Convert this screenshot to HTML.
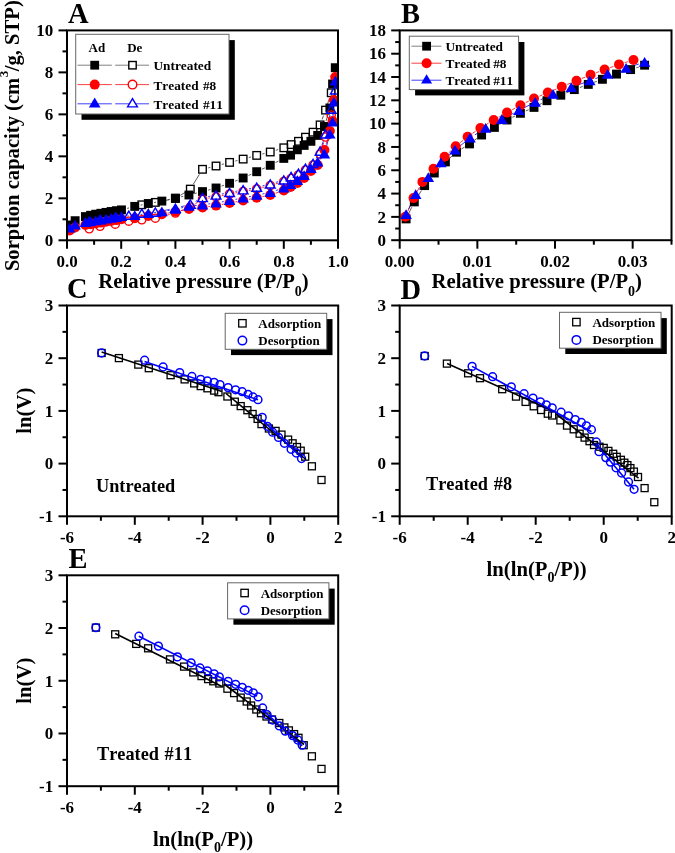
<!DOCTYPE html>
<html><head><meta charset="utf-8"><style>
html,body{margin:0;padding:0;background:#fff;}
svg{display:block;filter:blur(0.35px);}
text{font-family:"Liberation Serif", serif;font-weight:bold;fill:#000;font-kerning:none;}
</style></head><body>
<svg width="675" height="853" viewBox="0 0 675 853">
<defs>
<clipPath id="cA"><rect x="67" y="30.4" width="271" height="209.9"/></clipPath>
<clipPath id="cB"><rect x="399.7" y="30.4" width="271.8" height="209.8"/></clipPath>
<clipPath id="cC"><rect x="67" y="305.5" width="271.2" height="210.8"/></clipPath>
<clipPath id="cD"><rect x="399.7" y="305.5" width="272" height="210.8"/></clipPath>
<clipPath id="cE"><rect x="67" y="575.3" width="271.2" height="210.9"/></clipPath>
</defs>
<g clip-path="url(#cA)">
<path d="M127.18,208.4L129.04,207.9M140.52,205.17L142.53,204.73M154.11,202.47L156.04,202.13M167.61,199.82L169.64,199.38M181.15,196.78L183.2,196.32M194.67,193.56L196.78,193.04M208.2,190.09L210.35,189.51M221.62,186.07L224.03,185.23M235.09,181.15L237.66,180.15M248.5,175.51L251.35,174.19M262.03,169.18L264.92,167.82M275.51,162.62L278.54,161.08M326.11,120.84L328.21,113.66M330.53,102.14L331.92,89.86M333.55,78.18L334.32,73.52" fill="none" stroke="#333" stroke-width="0.8"/>
<path d="M333.5,85.62L333.01,87.18M329.38,98.4L327.38,104.5M323.51,115.64L322.14,119.36M278.16,149.55L275.89,150.25M264.53,153.44L262.42,153.96M251.01,156.95L248.84,157.55M237.42,160.5L235.33,161M223.9,163.91L221.75,164.49M210.32,167.4L208.23,167.9M199.41,174.32L193.4,184.08M185.31,192.25L180.39,195.35M169.61,199.63L161.14,201.27M149.54,203.43L147.61,203.77" fill="none" stroke="#333" stroke-width="0.8"/>
<path d="M127.35,218.81L128.87,218.69M140.57,217.25L142.48,216.95M154.15,215.22L156,214.98M167.66,213.17L169.59,212.83M181.18,210.61L183.17,210.19M194.81,208.35L196.64,208.15M208.34,206.68L210.21,206.42M221.84,204.49L223.81,204.11M235.4,201.93L237.35,201.57M248.94,199.35L250.91,198.95M262.48,196.61L264.47,196.19M275.85,193.14L278.2,192.36M320.1,159.62L322.02,155.38M326.07,144.33L328.25,136.67M332.96,115.11L333.56,105.89M334.28,94.11L334.94,82.89" fill="none" stroke="#ff0000" stroke-width="0.8"/>
<path d="M333.68,106.38L332.84,109.32M329.75,120.71L327.01,131.29M323.74,142.62L321.91,148.38M316.93,158.97L316.25,160.03M278.14,183.17L275.91,183.83M264.54,186.98L262.41,187.52M250.9,190.07L248.95,190.43M237.35,192.57L235.4,192.93M223.82,195.19L221.83,195.61M210.24,197.83L208.31,198.17M197.53,202.38L195.28,203.82M184.83,209.2L180.87,210.8M169.69,214.48L161.06,216.72M149.49,218.89L147.66,219.11M135.93,220.43L134.65,220.57M123.03,222.48L121,222.92M109.39,225.01L105.91,225.49" fill="none" stroke="#ff0000" stroke-width="0.8"/>
<path d="M127.35,216.01L128.87,215.89M140.58,214.5L142.47,214.2M154.16,212.61L155.99,212.39M167.65,210.63L169.6,210.27M181.16,207.92L183.19,207.48M194.82,205.59L196.63,205.41M208.35,204.02L210.2,203.78M221.85,201.93L223.8,201.57M235.39,199.39L237.36,199.01M248.94,196.75L250.91,196.35M262.48,194.01L264.47,193.59M275.85,190.54L278.2,189.76M325.99,148.31L328.33,139.69M331.17,128.24L331.28,127.76M332.98,116.11L333.54,107.89M334.31,96.11L334.91,86.89" fill="none" stroke="#0000ff" stroke-width="0.8"/>
<path d="M334.07,95.77L332.44,103.53M329.9,115.05L326.86,128.25M323.76,139.63L321.89,145.57M317.18,156.32L316,158.38M278.14,181.67L275.91,182.33M264.52,185.4L262.43,185.9M250.91,188.41L248.94,188.79M237.36,191.01L235.39,191.39M223.81,193.61L221.84,193.99M210.25,196.17L208.3,196.53M197.31,200.41L195.49,201.39M184.62,205.76L181.09,206.74M169.61,209.43L161.14,211.07M149.47,212.68L147.68,212.82M135.96,214.2L134.62,214.4M122.95,216.16L121.07,216.44M109.4,218.15L105.9,218.65" fill="none" stroke="#0000ff" stroke-width="0.8"/>
<rect x="331.52" y="76.22" width="7.55" height="7.55" fill="none" stroke="#000" stroke-width="1.35"/>
<rect x="327.45" y="89.02" width="7.55" height="7.55" fill="none" stroke="#000" stroke-width="1.35"/>
<rect x="321.76" y="106.32" width="7.55" height="7.55" fill="none" stroke="#000" stroke-width="1.35"/>
<rect x="316.34" y="121.12" width="7.55" height="7.55" fill="none" stroke="#000" stroke-width="1.35"/>
<rect x="309.29" y="128.42" width="7.55" height="7.55" fill="none" stroke="#000" stroke-width="1.35"/>
<rect x="301.71" y="133.42" width="7.55" height="7.55" fill="none" stroke="#000" stroke-width="1.35"/>
<rect x="294.66" y="137.53" width="7.55" height="7.55" fill="none" stroke="#000" stroke-width="1.35"/>
<rect x="287.34" y="140.82" width="7.55" height="7.55" fill="none" stroke="#000" stroke-width="1.35"/>
<rect x="280.03" y="144.03" width="7.55" height="7.55" fill="none" stroke="#000" stroke-width="1.35"/>
<rect x="266.48" y="148.22" width="7.55" height="7.55" fill="none" stroke="#000" stroke-width="1.35"/>
<rect x="252.92" y="151.62" width="7.55" height="7.55" fill="none" stroke="#000" stroke-width="1.35"/>
<rect x="239.38" y="155.32" width="7.55" height="7.55" fill="none" stroke="#000" stroke-width="1.35"/>
<rect x="225.82" y="158.62" width="7.55" height="7.55" fill="none" stroke="#000" stroke-width="1.35"/>
<rect x="212.28" y="162.22" width="7.55" height="7.55" fill="none" stroke="#000" stroke-width="1.35"/>
<rect x="198.72" y="165.53" width="7.55" height="7.55" fill="none" stroke="#000" stroke-width="1.35"/>
<rect x="186.53" y="185.32" width="7.55" height="7.55" fill="none" stroke="#000" stroke-width="1.35"/>
<rect x="171.62" y="194.72" width="7.55" height="7.55" fill="none" stroke="#000" stroke-width="1.35"/>
<rect x="151.57" y="198.62" width="7.55" height="7.55" fill="none" stroke="#000" stroke-width="1.35"/>
<rect x="138.02" y="201.03" width="7.55" height="7.55" fill="none" stroke="#000" stroke-width="1.35"/>
<rect x="65.26" y="220.55" width="8.9" height="8.9" fill="#000"/>
<rect x="70.68" y="216.25" width="8.9" height="8.9" fill="#000"/>
<rect x="80.98" y="212.15" width="8.9" height="8.9" fill="#000"/>
<rect x="86.13" y="210.85" width="8.9" height="8.9" fill="#000"/>
<rect x="91.28" y="209.75" width="8.9" height="8.9" fill="#000"/>
<rect x="96.42" y="208.85" width="8.9" height="8.9" fill="#000"/>
<rect x="101.57" y="207.95" width="8.9" height="8.9" fill="#000"/>
<rect x="106.72" y="207.05" width="8.9" height="8.9" fill="#000"/>
<rect x="111.87" y="206.25" width="8.9" height="8.9" fill="#000"/>
<rect x="117.02" y="205.45" width="8.9" height="8.9" fill="#000"/>
<rect x="130.3" y="201.95" width="8.9" height="8.9" fill="#000"/>
<rect x="143.85" y="199.05" width="8.9" height="8.9" fill="#000"/>
<rect x="157.4" y="196.65" width="8.9" height="8.9" fill="#000"/>
<rect x="170.95" y="193.65" width="8.9" height="8.9" fill="#000"/>
<rect x="184.5" y="190.55" width="8.9" height="8.9" fill="#000"/>
<rect x="198.05" y="187.15" width="8.9" height="8.9" fill="#000"/>
<rect x="211.6" y="183.55" width="8.9" height="8.9" fill="#000"/>
<rect x="225.15" y="178.85" width="8.9" height="8.9" fill="#000"/>
<rect x="238.7" y="173.55" width="8.9" height="8.9" fill="#000"/>
<rect x="252.25" y="167.25" width="8.9" height="8.9" fill="#000"/>
<rect x="265.8" y="160.85" width="8.9" height="8.9" fill="#000"/>
<rect x="279.35" y="153.95" width="8.9" height="8.9" fill="#000"/>
<rect x="286.12" y="150.75" width="8.9" height="8.9" fill="#000"/>
<rect x="292.9" y="145.35" width="8.9" height="8.9" fill="#000"/>
<rect x="299.68" y="140.95" width="8.9" height="8.9" fill="#000"/>
<rect x="306.45" y="136.85" width="8.9" height="8.9" fill="#000"/>
<rect x="313.23" y="130.95" width="8.9" height="8.9" fill="#000"/>
<rect x="320" y="122.05" width="8.9" height="8.9" fill="#000"/>
<rect x="325.42" y="103.55" width="8.9" height="8.9" fill="#000"/>
<rect x="328.13" y="79.55" width="8.9" height="8.9" fill="#000"/>
<rect x="330.84" y="63.25" width="8.9" height="8.9" fill="#000"/>
<circle cx="69.71" cy="230.5" r="5" fill="#ff0000"/>
<circle cx="75.13" cy="227.5" r="5" fill="#ff0000"/>
<circle cx="85.43" cy="225" r="5" fill="#ff0000"/>
<circle cx="90.58" cy="224.3" r="5" fill="#ff0000"/>
<circle cx="95.73" cy="223.4" r="5" fill="#ff0000"/>
<circle cx="100.88" cy="222.6" r="5" fill="#ff0000"/>
<circle cx="106.02" cy="221.7" r="5" fill="#ff0000"/>
<circle cx="111.17" cy="220.9" r="5" fill="#ff0000"/>
<circle cx="116.32" cy="220.1" r="5" fill="#ff0000"/>
<circle cx="121.47" cy="219.3" r="5" fill="#ff0000"/>
<circle cx="134.75" cy="218.2" r="5" fill="#ff0000"/>
<circle cx="148.3" cy="216" r="5" fill="#ff0000"/>
<circle cx="161.85" cy="214.2" r="5" fill="#ff0000"/>
<circle cx="175.4" cy="211.8" r="5" fill="#ff0000"/>
<circle cx="188.95" cy="209" r="5" fill="#ff0000"/>
<circle cx="202.5" cy="207.5" r="5" fill="#ff0000"/>
<circle cx="216.05" cy="205.6" r="5" fill="#ff0000"/>
<circle cx="229.6" cy="203" r="5" fill="#ff0000"/>
<circle cx="243.15" cy="200.5" r="5" fill="#ff0000"/>
<circle cx="256.7" cy="197.8" r="5" fill="#ff0000"/>
<circle cx="270.25" cy="195" r="5" fill="#ff0000"/>
<circle cx="283.8" cy="190.5" r="5" fill="#ff0000"/>
<circle cx="290.57" cy="187" r="5" fill="#ff0000"/>
<circle cx="297.35" cy="183" r="5" fill="#ff0000"/>
<circle cx="304.12" cy="178" r="5" fill="#ff0000"/>
<circle cx="310.9" cy="171" r="5" fill="#ff0000"/>
<circle cx="317.68" cy="165" r="5" fill="#ff0000"/>
<circle cx="324.45" cy="150" r="5" fill="#ff0000"/>
<circle cx="329.87" cy="131" r="5" fill="#ff0000"/>
<circle cx="332.58" cy="121" r="5" fill="#ff0000"/>
<circle cx="333.94" cy="100" r="5" fill="#ff0000"/>
<circle cx="335.29" cy="77" r="5" fill="#ff0000"/>
<circle cx="335.29" cy="100.7" r="4.1" fill="none" stroke="#ff0000" stroke-width="1.4"/>
<circle cx="331.22" cy="115" r="4.1" fill="none" stroke="#ff0000" stroke-width="1.4"/>
<circle cx="325.53" cy="137" r="4.1" fill="none" stroke="#ff0000" stroke-width="1.4"/>
<circle cx="320.11" cy="154" r="4.1" fill="none" stroke="#ff0000" stroke-width="1.4"/>
<circle cx="313.07" cy="165" r="4.1" fill="none" stroke="#ff0000" stroke-width="1.4"/>
<circle cx="305.48" cy="170" r="4.1" fill="none" stroke="#ff0000" stroke-width="1.4"/>
<circle cx="298.43" cy="175" r="4.1" fill="none" stroke="#ff0000" stroke-width="1.4"/>
<circle cx="291.12" cy="178.5" r="4.1" fill="none" stroke="#ff0000" stroke-width="1.4"/>
<circle cx="283.8" cy="181.5" r="4.1" fill="none" stroke="#ff0000" stroke-width="1.4"/>
<circle cx="270.25" cy="185.5" r="4.1" fill="none" stroke="#ff0000" stroke-width="1.4"/>
<circle cx="256.7" cy="189" r="4.1" fill="none" stroke="#ff0000" stroke-width="1.4"/>
<circle cx="243.15" cy="191.5" r="4.1" fill="none" stroke="#ff0000" stroke-width="1.4"/>
<circle cx="229.6" cy="194" r="4.1" fill="none" stroke="#ff0000" stroke-width="1.4"/>
<circle cx="216.05" cy="196.8" r="4.1" fill="none" stroke="#ff0000" stroke-width="1.4"/>
<circle cx="202.5" cy="199.2" r="4.1" fill="none" stroke="#ff0000" stroke-width="1.4"/>
<circle cx="190.31" cy="207" r="4.1" fill="none" stroke="#ff0000" stroke-width="1.4"/>
<circle cx="175.4" cy="213" r="4.1" fill="none" stroke="#ff0000" stroke-width="1.4"/>
<circle cx="155.35" cy="218.2" r="4.1" fill="none" stroke="#ff0000" stroke-width="1.4"/>
<circle cx="141.8" cy="219.8" r="4.1" fill="none" stroke="#ff0000" stroke-width="1.4"/>
<circle cx="128.79" cy="221.2" r="4.1" fill="none" stroke="#ff0000" stroke-width="1.4"/>
<circle cx="115.24" cy="224.2" r="4.1" fill="none" stroke="#ff0000" stroke-width="1.4"/>
<circle cx="100.06" cy="226.3" r="4.1" fill="none" stroke="#ff0000" stroke-width="1.4"/>
<circle cx="89.22" cy="228.8" r="4.1" fill="none" stroke="#ff0000" stroke-width="1.4"/>
<polygon points="69.71,222.82 63.93,232.59 75.48,232.59" fill="#0000ff"/>
<polygon points="75.13,219.82 69.35,229.59 80.91,229.59" fill="#0000ff"/>
<polygon points="85.43,217.12 79.65,226.89 91.2,226.89" fill="#0000ff"/>
<polygon points="90.58,216.32 84.8,226.09 96.35,226.09" fill="#0000ff"/>
<polygon points="95.73,215.42 89.95,225.19 101.5,225.19" fill="#0000ff"/>
<polygon points="100.88,214.62 95.1,224.39 106.65,224.39" fill="#0000ff"/>
<polygon points="106.02,213.72 100.25,223.49 111.8,223.49" fill="#0000ff"/>
<polygon points="111.17,212.92 105.4,222.69 116.95,222.69" fill="#0000ff"/>
<polygon points="116.32,212.12 110.55,221.89 122.1,221.89" fill="#0000ff"/>
<polygon points="121.47,211.32 115.7,221.09 127.25,221.09" fill="#0000ff"/>
<polygon points="134.75,210.22 128.97,219.99 140.53,219.99" fill="#0000ff"/>
<polygon points="148.3,208.12 142.53,217.89 154.08,217.89" fill="#0000ff"/>
<polygon points="161.85,206.52 156.07,216.29 167.62,216.29" fill="#0000ff"/>
<polygon points="175.4,204.02 169.62,213.79 181.18,213.79" fill="#0000ff"/>
<polygon points="188.95,201.02 183.17,210.79 194.72,210.79" fill="#0000ff"/>
<polygon points="202.5,199.62 196.72,209.39 208.28,209.39" fill="#0000ff"/>
<polygon points="216.05,197.82 210.28,207.59 221.83,207.59" fill="#0000ff"/>
<polygon points="229.6,195.32 223.82,205.09 235.38,205.09" fill="#0000ff"/>
<polygon points="243.15,192.72 237.38,202.49 248.93,202.49" fill="#0000ff"/>
<polygon points="256.7,190.02 250.92,199.79 262.47,199.79" fill="#0000ff"/>
<polygon points="270.25,187.22 264.48,196.99 276.02,196.99" fill="#0000ff"/>
<polygon points="283.8,182.72 278.03,192.49 289.57,192.49" fill="#0000ff"/>
<polygon points="290.57,179.32 284.8,189.09 296.35,189.09" fill="#0000ff"/>
<polygon points="297.35,175.32 291.58,185.09 303.12,185.09" fill="#0000ff"/>
<polygon points="304.12,170.32 298.35,180.09 309.9,180.09" fill="#0000ff"/>
<polygon points="310.9,163.32 305.12,173.09 316.67,173.09" fill="#0000ff"/>
<polygon points="317.68,156.82 311.9,166.59 323.45,166.59" fill="#0000ff"/>
<polygon points="324.45,148.82 318.68,158.59 330.22,158.59" fill="#0000ff"/>
<polygon points="329.87,128.82 324.1,138.59 335.64,138.59" fill="#0000ff"/>
<polygon points="332.58,116.82 326.81,126.59 338.35,126.59" fill="#0000ff"/>
<polygon points="333.94,96.82 328.16,106.59 339.71,106.59" fill="#0000ff"/>
<polygon points="335.29,75.82 329.52,85.59 341.06,85.59" fill="#0000ff"/>
<polygon points="335.29,85.78 330.43,94.01 340.16,94.01" fill="none" stroke="#0000ff" stroke-width="1.4" stroke-linejoin="miter"/>
<polygon points="331.22,105.08 326.36,113.31 336.09,113.31" fill="none" stroke="#0000ff" stroke-width="1.4" stroke-linejoin="miter"/>
<polygon points="325.53,129.78 320.67,138.01 330.4,138.01" fill="none" stroke="#0000ff" stroke-width="1.4" stroke-linejoin="miter"/>
<polygon points="320.11,146.98 315.25,155.21 324.98,155.21" fill="none" stroke="#0000ff" stroke-width="1.4" stroke-linejoin="miter"/>
<polygon points="313.07,159.28 308.2,167.51 317.93,167.51" fill="none" stroke="#0000ff" stroke-width="1.4" stroke-linejoin="miter"/>
<polygon points="305.48,164.18 300.62,172.41 310.35,172.41" fill="none" stroke="#0000ff" stroke-width="1.4" stroke-linejoin="miter"/>
<polygon points="298.43,169.18 293.57,177.41 303.3,177.41" fill="none" stroke="#0000ff" stroke-width="1.4" stroke-linejoin="miter"/>
<polygon points="291.12,172.48 286.25,180.71 295.98,180.71" fill="none" stroke="#0000ff" stroke-width="1.4" stroke-linejoin="miter"/>
<polygon points="283.8,175.78 278.94,184.01 288.67,184.01" fill="none" stroke="#0000ff" stroke-width="1.4" stroke-linejoin="miter"/>
<polygon points="270.25,179.78 265.38,188.01 275.12,188.01" fill="none" stroke="#0000ff" stroke-width="1.4" stroke-linejoin="miter"/>
<polygon points="256.7,183.08 251.83,191.31 261.56,191.31" fill="none" stroke="#0000ff" stroke-width="1.4" stroke-linejoin="miter"/>
<polygon points="243.15,185.68 238.28,193.91 248.02,193.91" fill="none" stroke="#0000ff" stroke-width="1.4" stroke-linejoin="miter"/>
<polygon points="229.6,188.28 224.73,196.51 234.47,196.51" fill="none" stroke="#0000ff" stroke-width="1.4" stroke-linejoin="miter"/>
<polygon points="216.05,190.88 211.19,199.11 220.92,199.11" fill="none" stroke="#0000ff" stroke-width="1.4" stroke-linejoin="miter"/>
<polygon points="202.5,193.38 197.63,201.61 207.37,201.61" fill="none" stroke="#0000ff" stroke-width="1.4" stroke-linejoin="miter"/>
<polygon points="190.31,199.98 185.44,208.21 195.17,208.21" fill="none" stroke="#0000ff" stroke-width="1.4" stroke-linejoin="miter"/>
<polygon points="175.4,204.08 170.53,212.31 180.27,212.31" fill="none" stroke="#0000ff" stroke-width="1.4" stroke-linejoin="miter"/>
<polygon points="155.35,207.98 150.48,216.21 160.21,216.21" fill="none" stroke="#0000ff" stroke-width="1.4" stroke-linejoin="miter"/>
<polygon points="141.8,209.08 136.93,217.31 146.66,217.31" fill="none" stroke="#0000ff" stroke-width="1.4" stroke-linejoin="miter"/>
<polygon points="128.79,211.08 123.92,219.31 133.65,219.31" fill="none" stroke="#0000ff" stroke-width="1.4" stroke-linejoin="miter"/>
<polygon points="115.24,213.08 110.37,221.31 120.1,221.31" fill="none" stroke="#0000ff" stroke-width="1.4" stroke-linejoin="miter"/>
<polygon points="100.06,215.28 95.2,223.51 104.93,223.51" fill="none" stroke="#0000ff" stroke-width="1.4" stroke-linejoin="miter"/>
<polygon points="89.22,217.28 84.36,225.51 94.09,225.51" fill="none" stroke="#0000ff" stroke-width="1.4" stroke-linejoin="miter"/>
</g>
<g clip-path="url(#cB)">
<path d="M408.66,213.59L411.74,207.21M417.45,196.91L421.45,190.59M428.2,180.92L430.7,177.68M438.47,168.83L441.23,166.07M449.84,158.02L452.06,156.08M461.47,149.03L464.53,147.07M474.25,140.4L476.85,138.5M486.67,131.99L489.33,130.41M499.49,124.41L501.91,122.99M512.28,117.36L515.12,115.94M525.81,110.95L528.59,109.75M539.24,104.7L541.76,103.4M552.48,98.52L555.32,97.38M566.25,92.94L568.85,91.86M579.83,87.55L582.77,86.45M593.85,82.39L596.85,81.31M607.94,77.26L610.96,76.14M622.12,72.31L624.98,71.39M636.23,67.83L638.97,66.97" fill="none" stroke="#333" stroke-width="0.8"/>
<path d="M407.76,211.29L411.14,203.51M416.34,192.93L419.56,187.07M426.21,177.4L429.69,173.3M437.49,164.45L440.61,161.05M448.91,152.67L451.39,150.33M460.29,142.6L463.01,140.4M472.5,133.41L475.5,131.39M485.44,125.03L488.66,123.07M498.86,117.13L501.84,115.47M512.16,109.75L515.24,108.05M525.69,102.59L528.71,101.11M539.42,96.18L542.38,94.92M553.24,90.31L556.36,88.99M567.26,84.47L571.04,82.93M581.94,78.42L585.16,77.08M596.13,72.75L599.07,71.65M610.15,67.6L613.45,66.4M624.65,62.69L627.85,61.71" fill="none" stroke="#ff0000" stroke-width="0.8"/>
<path d="M408.65,209.08L413.15,199.72M419.21,189.66L424.79,182.14M432.12,172.91L437.08,167.09M445.3,158.67L450.6,153.93M459.61,146.31L465.39,141.69M474.98,134.84L480.62,131.26M490.79,125.3L496.71,122.1M507.13,116.56L513.67,113.14M524.17,107.75L529.93,104.85M540.57,99.76L547.63,96.54M558.54,92.07L565.76,89.43M576.85,85.39L584.25,82.71M595.33,78.65L602.07,76.15M613.21,72.28L620.49,69.92M631.72,66.31L638.98,63.99" fill="none" stroke="#0000ff" stroke-width="0.8"/>
<rect x="401.65" y="214.45" width="8.9" height="8.9" fill="#000"/>
<rect x="409.85" y="197.45" width="8.9" height="8.9" fill="#000"/>
<rect x="420.15" y="181.15" width="8.9" height="8.9" fill="#000"/>
<rect x="429.85" y="168.55" width="8.9" height="8.9" fill="#000"/>
<rect x="440.95" y="157.45" width="8.9" height="8.9" fill="#000"/>
<rect x="452.05" y="147.75" width="8.9" height="8.9" fill="#000"/>
<rect x="465.05" y="139.45" width="8.9" height="8.9" fill="#000"/>
<rect x="477.15" y="130.55" width="8.9" height="8.9" fill="#000"/>
<rect x="489.95" y="122.95" width="8.9" height="8.9" fill="#000"/>
<rect x="502.55" y="115.55" width="8.9" height="8.9" fill="#000"/>
<rect x="515.95" y="108.85" width="8.9" height="8.9" fill="#000"/>
<rect x="529.55" y="102.95" width="8.9" height="8.9" fill="#000"/>
<rect x="542.55" y="96.25" width="8.9" height="8.9" fill="#000"/>
<rect x="556.35" y="90.75" width="8.9" height="8.9" fill="#000"/>
<rect x="569.85" y="85.15" width="8.9" height="8.9" fill="#000"/>
<rect x="583.85" y="79.95" width="8.9" height="8.9" fill="#000"/>
<rect x="597.95" y="74.85" width="8.9" height="8.9" fill="#000"/>
<rect x="612.05" y="69.65" width="8.9" height="8.9" fill="#000"/>
<rect x="626.15" y="65.15" width="8.9" height="8.9" fill="#000"/>
<rect x="640.15" y="60.75" width="8.9" height="8.9" fill="#000"/>
<circle cx="405.4" cy="216.7" r="5" fill="#ff0000"/>
<circle cx="413.5" cy="198.1" r="5" fill="#ff0000"/>
<circle cx="422.4" cy="181.9" r="5" fill="#ff0000"/>
<circle cx="433.5" cy="168.8" r="5" fill="#ff0000"/>
<circle cx="444.6" cy="156.7" r="5" fill="#ff0000"/>
<circle cx="455.7" cy="146.3" r="5" fill="#ff0000"/>
<circle cx="467.6" cy="136.7" r="5" fill="#ff0000"/>
<circle cx="480.4" cy="128.1" r="5" fill="#ff0000"/>
<circle cx="493.7" cy="120" r="5" fill="#ff0000"/>
<circle cx="507" cy="112.6" r="5" fill="#ff0000"/>
<circle cx="520.4" cy="105.2" r="5" fill="#ff0000"/>
<circle cx="534" cy="98.5" r="5" fill="#ff0000"/>
<circle cx="547.8" cy="92.6" r="5" fill="#ff0000"/>
<circle cx="561.8" cy="86.7" r="5" fill="#ff0000"/>
<circle cx="576.5" cy="80.7" r="5" fill="#ff0000"/>
<circle cx="590.6" cy="74.8" r="5" fill="#ff0000"/>
<circle cx="604.6" cy="69.6" r="5" fill="#ff0000"/>
<circle cx="619" cy="64.4" r="5" fill="#ff0000"/>
<circle cx="633.5" cy="60" r="5" fill="#ff0000"/>
<polygon points="406.1,209.22 400.33,218.99 411.88,218.99" fill="#0000ff"/>
<polygon points="415.7,189.22 409.93,198.99 421.47,198.99" fill="#0000ff"/>
<polygon points="428.3,172.22 422.53,181.99 434.07,181.99" fill="#0000ff"/>
<polygon points="440.9,157.42 435.12,167.19 446.67,167.19" fill="#0000ff"/>
<polygon points="455,144.82 449.23,154.59 460.77,154.59" fill="#0000ff"/>
<polygon points="470,132.82 464.23,142.59 475.77,142.59" fill="#0000ff"/>
<polygon points="485.6,122.92 479.83,132.69 491.38,132.69" fill="#0000ff"/>
<polygon points="501.9,114.12 496.12,123.89 507.67,123.89" fill="#0000ff"/>
<polygon points="518.9,105.22 513.12,114.99 524.67,114.99" fill="#0000ff"/>
<polygon points="535.2,97.02 529.43,106.79 540.98,106.79" fill="#0000ff"/>
<polygon points="553,88.92 547.23,98.69 558.77,98.69" fill="#0000ff"/>
<polygon points="571.3,82.22 565.52,91.99 577.07,91.99" fill="#0000ff"/>
<polygon points="589.8,75.52 584.02,85.29 595.57,85.29" fill="#0000ff"/>
<polygon points="607.6,68.92 601.83,78.69 613.38,78.69" fill="#0000ff"/>
<polygon points="626.1,62.92 620.33,72.69 631.88,72.69" fill="#0000ff"/>
<polygon points="644.6,57.02 638.83,66.79 650.38,66.79" fill="#0000ff"/>
</g>
<g clip-path="url(#cC)">
<rect x="98.1" y="349.5" width="7" height="7" fill="none" stroke="#000" stroke-width="1.3"/>
<rect x="115.4" y="354.6" width="7" height="7" fill="none" stroke="#000" stroke-width="1.3"/>
<rect x="134.8" y="361.1" width="7" height="7" fill="none" stroke="#000" stroke-width="1.3"/>
<rect x="145.3" y="364.7" width="7" height="7" fill="none" stroke="#000" stroke-width="1.3"/>
<rect x="167.1" y="371.7" width="7" height="7" fill="none" stroke="#000" stroke-width="1.3"/>
<rect x="181.1" y="375.9" width="7" height="7" fill="none" stroke="#000" stroke-width="1.3"/>
<rect x="190.7" y="379.9" width="7" height="7" fill="none" stroke="#000" stroke-width="1.3"/>
<rect x="197.2" y="382.6" width="7" height="7" fill="none" stroke="#000" stroke-width="1.3"/>
<rect x="203.9" y="384.8" width="7" height="7" fill="none" stroke="#000" stroke-width="1.3"/>
<rect x="210.6" y="387.1" width="7" height="7" fill="none" stroke="#000" stroke-width="1.3"/>
<rect x="215" y="388.7" width="7" height="7" fill="none" stroke="#000" stroke-width="1.3"/>
<rect x="223.9" y="393" width="7" height="7" fill="none" stroke="#000" stroke-width="1.3"/>
<rect x="231.3" y="398.2" width="7" height="7" fill="none" stroke="#000" stroke-width="1.3"/>
<rect x="237.2" y="402.6" width="7" height="7" fill="none" stroke="#000" stroke-width="1.3"/>
<rect x="243.9" y="406.7" width="7" height="7" fill="none" stroke="#000" stroke-width="1.3"/>
<rect x="249.1" y="410.5" width="7" height="7" fill="none" stroke="#000" stroke-width="1.3"/>
<rect x="254.1" y="415.4" width="7" height="7" fill="none" stroke="#000" stroke-width="1.3"/>
<rect x="258" y="420.6" width="7" height="7" fill="none" stroke="#000" stroke-width="1.3"/>
<rect x="265.4" y="425" width="7" height="7" fill="none" stroke="#000" stroke-width="1.3"/>
<rect x="272.1" y="427.4" width="7" height="7" fill="none" stroke="#000" stroke-width="1.3"/>
<rect x="278" y="431.1" width="7" height="7" fill="none" stroke="#000" stroke-width="1.3"/>
<rect x="284.6" y="436.1" width="7" height="7" fill="none" stroke="#000" stroke-width="1.3"/>
<rect x="289.1" y="439.8" width="7" height="7" fill="none" stroke="#000" stroke-width="1.3"/>
<rect x="293.5" y="443.5" width="7" height="7" fill="none" stroke="#000" stroke-width="1.3"/>
<rect x="297.2" y="447.2" width="7" height="7" fill="none" stroke="#000" stroke-width="1.3"/>
<rect x="301.7" y="453.2" width="7" height="7" fill="none" stroke="#000" stroke-width="1.3"/>
<rect x="308.4" y="462.8" width="7" height="7" fill="none" stroke="#000" stroke-width="1.3"/>
<rect x="318" y="476.5" width="7" height="7" fill="none" stroke="#000" stroke-width="1.3"/>
<circle cx="101.6" cy="353" r="3.9" fill="none" stroke="#0000ff" stroke-width="1.5"/>
<circle cx="144.6" cy="360.2" r="3.9" fill="none" stroke="#0000ff" stroke-width="1.5"/>
<circle cx="163.1" cy="367" r="3.9" fill="none" stroke="#0000ff" stroke-width="1.5"/>
<circle cx="179.7" cy="372.6" r="3.9" fill="none" stroke="#0000ff" stroke-width="1.5"/>
<circle cx="191.9" cy="376.5" r="3.9" fill="none" stroke="#0000ff" stroke-width="1.5"/>
<circle cx="200.7" cy="379.4" r="3.9" fill="none" stroke="#0000ff" stroke-width="1.5"/>
<circle cx="207.4" cy="380.9" r="3.9" fill="none" stroke="#0000ff" stroke-width="1.5"/>
<circle cx="214.1" cy="382.4" r="3.9" fill="none" stroke="#0000ff" stroke-width="1.5"/>
<circle cx="220" cy="384.6" r="3.9" fill="none" stroke="#0000ff" stroke-width="1.5"/>
<circle cx="228.1" cy="387.6" r="3.9" fill="none" stroke="#0000ff" stroke-width="1.5"/>
<circle cx="235.6" cy="389.8" r="3.9" fill="none" stroke="#0000ff" stroke-width="1.5"/>
<circle cx="242.2" cy="391.7" r="3.9" fill="none" stroke="#0000ff" stroke-width="1.5"/>
<circle cx="248" cy="394.3" r="3.9" fill="none" stroke="#0000ff" stroke-width="1.5"/>
<circle cx="253" cy="397" r="3.9" fill="none" stroke="#0000ff" stroke-width="1.5"/>
<circle cx="258" cy="399.7" r="3.9" fill="none" stroke="#0000ff" stroke-width="1.5"/>
<circle cx="262.2" cy="417.4" r="3.9" fill="none" stroke="#0000ff" stroke-width="1.5"/>
<circle cx="267.4" cy="426.3" r="3.9" fill="none" stroke="#0000ff" stroke-width="1.5"/>
<circle cx="272.6" cy="432.2" r="3.9" fill="none" stroke="#0000ff" stroke-width="1.5"/>
<circle cx="278.5" cy="437.4" r="3.9" fill="none" stroke="#0000ff" stroke-width="1.5"/>
<circle cx="284.4" cy="443.3" r="3.9" fill="none" stroke="#0000ff" stroke-width="1.5"/>
<circle cx="291.1" cy="449.3" r="3.9" fill="none" stroke="#0000ff" stroke-width="1.5"/>
<circle cx="296.3" cy="453" r="3.9" fill="none" stroke="#0000ff" stroke-width="1.5"/>
<circle cx="301.5" cy="458.5" r="3.9" fill="none" stroke="#0000ff" stroke-width="1.5"/>
<line x1="101.6" y1="352.1" x2="222" y2="391.6" stroke="#000" stroke-width="1.6"/>
<line x1="226" y1="393.5" x2="306" y2="459.5" stroke="#000" stroke-width="1.6"/>
<line x1="144.5" y1="361.6" x2="258" y2="399.8" stroke="#00f" stroke-width="1.6"/>
<line x1="262" y1="419.6" x2="302.2" y2="458.1" stroke="#00f" stroke-width="1.6"/>
</g>
<g clip-path="url(#cD)">
<rect x="421.2" y="352.5" width="7" height="7" fill="none" stroke="#000" stroke-width="1.3"/>
<rect x="443.4" y="360.1" width="7" height="7" fill="none" stroke="#000" stroke-width="1.3"/>
<rect x="464.6" y="369.8" width="7" height="7" fill="none" stroke="#000" stroke-width="1.3"/>
<rect x="476.5" y="374.7" width="7" height="7" fill="none" stroke="#000" stroke-width="1.3"/>
<rect x="498.7" y="385.7" width="7" height="7" fill="none" stroke="#000" stroke-width="1.3"/>
<rect x="512.5" y="393.1" width="7" height="7" fill="none" stroke="#000" stroke-width="1.3"/>
<rect x="522.1" y="398.4" width="7" height="7" fill="none" stroke="#000" stroke-width="1.3"/>
<rect x="530.2" y="402.8" width="7" height="7" fill="none" stroke="#000" stroke-width="1.3"/>
<rect x="537.6" y="406.5" width="7" height="7" fill="none" stroke="#000" stroke-width="1.3"/>
<rect x="544.3" y="410.2" width="7" height="7" fill="none" stroke="#000" stroke-width="1.3"/>
<rect x="548.7" y="412" width="7" height="7" fill="none" stroke="#000" stroke-width="1.3"/>
<rect x="556.9" y="416.9" width="7" height="7" fill="none" stroke="#000" stroke-width="1.3"/>
<rect x="563.5" y="422.1" width="7" height="7" fill="none" stroke="#000" stroke-width="1.3"/>
<rect x="570.2" y="425.8" width="7" height="7" fill="none" stroke="#000" stroke-width="1.3"/>
<rect x="576.1" y="430.2" width="7" height="7" fill="none" stroke="#000" stroke-width="1.3"/>
<rect x="581.1" y="434.1" width="7" height="7" fill="none" stroke="#000" stroke-width="1.3"/>
<rect x="586" y="437.7" width="7" height="7" fill="none" stroke="#000" stroke-width="1.3"/>
<rect x="590.5" y="441.5" width="7" height="7" fill="none" stroke="#000" stroke-width="1.3"/>
<rect x="596" y="443.2" width="7" height="7" fill="none" stroke="#000" stroke-width="1.3"/>
<rect x="600.2" y="444.4" width="7" height="7" fill="none" stroke="#000" stroke-width="1.3"/>
<rect x="604.9" y="447.4" width="7" height="7" fill="none" stroke="#000" stroke-width="1.3"/>
<rect x="609.7" y="450.3" width="7" height="7" fill="none" stroke="#000" stroke-width="1.3"/>
<rect x="613.2" y="453.3" width="7" height="7" fill="none" stroke="#000" stroke-width="1.3"/>
<rect x="617.4" y="456.3" width="7" height="7" fill="none" stroke="#000" stroke-width="1.3"/>
<rect x="620.9" y="459.2" width="7" height="7" fill="none" stroke="#000" stroke-width="1.3"/>
<rect x="623.9" y="461.6" width="7" height="7" fill="none" stroke="#000" stroke-width="1.3"/>
<rect x="626.9" y="464.6" width="7" height="7" fill="none" stroke="#000" stroke-width="1.3"/>
<rect x="630.4" y="468.1" width="7" height="7" fill="none" stroke="#000" stroke-width="1.3"/>
<rect x="634.5" y="473.5" width="7" height="7" fill="none" stroke="#000" stroke-width="1.3"/>
<rect x="641.1" y="484.6" width="7" height="7" fill="none" stroke="#000" stroke-width="1.3"/>
<rect x="650.8" y="498.7" width="7" height="7" fill="none" stroke="#000" stroke-width="1.3"/>
<circle cx="424.7" cy="356" r="3.9" fill="none" stroke="#0000ff" stroke-width="1.5"/>
<circle cx="472.1" cy="366.4" r="3.9" fill="none" stroke="#0000ff" stroke-width="1.5"/>
<circle cx="492.6" cy="376.7" r="3.9" fill="none" stroke="#0000ff" stroke-width="1.5"/>
<circle cx="511.3" cy="386.8" r="3.9" fill="none" stroke="#0000ff" stroke-width="1.5"/>
<circle cx="524.1" cy="393.7" r="3.9" fill="none" stroke="#0000ff" stroke-width="1.5"/>
<circle cx="533" cy="398.1" r="3.9" fill="none" stroke="#0000ff" stroke-width="1.5"/>
<circle cx="540.4" cy="401.9" r="3.9" fill="none" stroke="#0000ff" stroke-width="1.5"/>
<circle cx="546.3" cy="404.8" r="3.9" fill="none" stroke="#0000ff" stroke-width="1.5"/>
<circle cx="552.2" cy="407.8" r="3.9" fill="none" stroke="#0000ff" stroke-width="1.5"/>
<circle cx="561.1" cy="412.2" r="3.9" fill="none" stroke="#0000ff" stroke-width="1.5"/>
<circle cx="568.5" cy="415.9" r="3.9" fill="none" stroke="#0000ff" stroke-width="1.5"/>
<circle cx="575.2" cy="419.6" r="3.9" fill="none" stroke="#0000ff" stroke-width="1.5"/>
<circle cx="581.4" cy="422.5" r="3.9" fill="none" stroke="#0000ff" stroke-width="1.5"/>
<circle cx="586.4" cy="425.8" r="3.9" fill="none" stroke="#0000ff" stroke-width="1.5"/>
<circle cx="591.4" cy="429.7" r="3.9" fill="none" stroke="#0000ff" stroke-width="1.5"/>
<circle cx="596.3" cy="442" r="3.9" fill="none" stroke="#0000ff" stroke-width="1.5"/>
<circle cx="599" cy="451.7" r="3.9" fill="none" stroke="#0000ff" stroke-width="1.5"/>
<circle cx="605.8" cy="457.6" r="3.9" fill="none" stroke="#0000ff" stroke-width="1.5"/>
<circle cx="610.4" cy="462.1" r="3.9" fill="none" stroke="#0000ff" stroke-width="1.5"/>
<circle cx="616" cy="467.8" r="3.9" fill="none" stroke="#0000ff" stroke-width="1.5"/>
<circle cx="621.6" cy="473" r="3.9" fill="none" stroke="#0000ff" stroke-width="1.5"/>
<circle cx="628.5" cy="482" r="3.9" fill="none" stroke="#0000ff" stroke-width="1.5"/>
<circle cx="634.1" cy="489.3" r="3.9" fill="none" stroke="#0000ff" stroke-width="1.5"/>
<line x1="447.1" y1="363.4" x2="554" y2="411.6" stroke="#000" stroke-width="1.6"/>
<line x1="556" y1="414" x2="638.5" y2="478.2" stroke="#000" stroke-width="1.6"/>
<line x1="472.1" y1="366.4" x2="591.5" y2="431.7" stroke="#00f" stroke-width="1.6"/>
<line x1="595.4" y1="443.2" x2="634" y2="489.3" stroke="#00f" stroke-width="1.6"/>
</g>
<g clip-path="url(#cE)">
<rect x="92.4" y="624.1" width="7" height="7" fill="none" stroke="#000" stroke-width="1.3"/>
<rect x="111.7" y="630.8" width="7" height="7" fill="none" stroke="#000" stroke-width="1.3"/>
<rect x="132.7" y="640.4" width="7" height="7" fill="none" stroke="#000" stroke-width="1.3"/>
<rect x="144.6" y="644.8" width="7" height="7" fill="none" stroke="#000" stroke-width="1.3"/>
<rect x="166.5" y="655.9" width="7" height="7" fill="none" stroke="#000" stroke-width="1.3"/>
<rect x="180.6" y="663.1" width="7" height="7" fill="none" stroke="#000" stroke-width="1.3"/>
<rect x="189.8" y="668.9" width="7" height="7" fill="none" stroke="#000" stroke-width="1.3"/>
<rect x="198" y="672.6" width="7" height="7" fill="none" stroke="#000" stroke-width="1.3"/>
<rect x="204.6" y="675.6" width="7" height="7" fill="none" stroke="#000" stroke-width="1.3"/>
<rect x="209.8" y="677.8" width="7" height="7" fill="none" stroke="#000" stroke-width="1.3"/>
<rect x="215.8" y="680" width="7" height="7" fill="none" stroke="#000" stroke-width="1.3"/>
<rect x="223.9" y="685.2" width="7" height="7" fill="none" stroke="#000" stroke-width="1.3"/>
<rect x="230.6" y="689.6" width="7" height="7" fill="none" stroke="#000" stroke-width="1.3"/>
<rect x="237.2" y="694.1" width="7" height="7" fill="none" stroke="#000" stroke-width="1.3"/>
<rect x="243.2" y="698" width="7" height="7" fill="none" stroke="#000" stroke-width="1.3"/>
<rect x="247.6" y="702" width="7" height="7" fill="none" stroke="#000" stroke-width="1.3"/>
<rect x="252.8" y="706" width="7" height="7" fill="none" stroke="#000" stroke-width="1.3"/>
<rect x="257.5" y="709.7" width="7" height="7" fill="none" stroke="#000" stroke-width="1.3"/>
<rect x="263" y="713" width="7" height="7" fill="none" stroke="#000" stroke-width="1.3"/>
<rect x="268.5" y="716" width="7" height="7" fill="none" stroke="#000" stroke-width="1.3"/>
<rect x="275.8" y="719.5" width="7" height="7" fill="none" stroke="#000" stroke-width="1.3"/>
<rect x="280.9" y="723.9" width="7" height="7" fill="none" stroke="#000" stroke-width="1.3"/>
<rect x="285.4" y="726.9" width="7" height="7" fill="none" stroke="#000" stroke-width="1.3"/>
<rect x="290.6" y="730.6" width="7" height="7" fill="none" stroke="#000" stroke-width="1.3"/>
<rect x="295" y="734.3" width="7" height="7" fill="none" stroke="#000" stroke-width="1.3"/>
<rect x="300.2" y="741.7" width="7" height="7" fill="none" stroke="#000" stroke-width="1.3"/>
<rect x="308.4" y="752.8" width="7" height="7" fill="none" stroke="#000" stroke-width="1.3"/>
<rect x="318" y="765.4" width="7" height="7" fill="none" stroke="#000" stroke-width="1.3"/>
<circle cx="95.9" cy="627.6" r="3.9" fill="none" stroke="#0000ff" stroke-width="1.5"/>
<circle cx="138.9" cy="636.2" r="3.9" fill="none" stroke="#0000ff" stroke-width="1.5"/>
<circle cx="158.4" cy="646.1" r="3.9" fill="none" stroke="#0000ff" stroke-width="1.5"/>
<circle cx="177.4" cy="656.9" r="3.9" fill="none" stroke="#0000ff" stroke-width="1.5"/>
<circle cx="191.1" cy="662.8" r="3.9" fill="none" stroke="#0000ff" stroke-width="1.5"/>
<circle cx="200" cy="668" r="3.9" fill="none" stroke="#0000ff" stroke-width="1.5"/>
<circle cx="207.4" cy="670.9" r="3.9" fill="none" stroke="#0000ff" stroke-width="1.5"/>
<circle cx="214.1" cy="673.9" r="3.9" fill="none" stroke="#0000ff" stroke-width="1.5"/>
<circle cx="219.3" cy="676.9" r="3.9" fill="none" stroke="#0000ff" stroke-width="1.5"/>
<circle cx="228.1" cy="681.3" r="3.9" fill="none" stroke="#0000ff" stroke-width="1.5"/>
<circle cx="235.6" cy="684.3" r="3.9" fill="none" stroke="#0000ff" stroke-width="1.5"/>
<circle cx="242.2" cy="687.3" r="3.9" fill="none" stroke="#0000ff" stroke-width="1.5"/>
<circle cx="248.1" cy="690.3" r="3.9" fill="none" stroke="#0000ff" stroke-width="1.5"/>
<circle cx="253.3" cy="692.8" r="3.9" fill="none" stroke="#0000ff" stroke-width="1.5"/>
<circle cx="258.2" cy="696.9" r="3.9" fill="none" stroke="#0000ff" stroke-width="1.5"/>
<circle cx="262.6" cy="708" r="3.9" fill="none" stroke="#0000ff" stroke-width="1.5"/>
<circle cx="267.1" cy="714.7" r="3.9" fill="none" stroke="#0000ff" stroke-width="1.5"/>
<circle cx="272.6" cy="720" r="3.9" fill="none" stroke="#0000ff" stroke-width="1.5"/>
<circle cx="279.3" cy="725.9" r="3.9" fill="none" stroke="#0000ff" stroke-width="1.5"/>
<circle cx="285.2" cy="731.1" r="3.9" fill="none" stroke="#0000ff" stroke-width="1.5"/>
<circle cx="292.6" cy="735.6" r="3.9" fill="none" stroke="#0000ff" stroke-width="1.5"/>
<circle cx="297.8" cy="740" r="3.9" fill="none" stroke="#0000ff" stroke-width="1.5"/>
<circle cx="302.2" cy="745.2" r="3.9" fill="none" stroke="#0000ff" stroke-width="1.5"/>
<line x1="115.2" y1="633.5" x2="222" y2="686.5" stroke="#000" stroke-width="1.6"/>
<line x1="224" y1="684" x2="304" y2="744.5" stroke="#000" stroke-width="1.6"/>
<line x1="138.9" y1="636.2" x2="257" y2="696.1" stroke="#00f" stroke-width="1.6"/>
<line x1="262.2" y1="709.6" x2="302.2" y2="745.9" stroke="#00f" stroke-width="1.6"/>
</g>
<rect x="67" y="30.4" width="271" height="209.9" fill="none" stroke="#000" stroke-width="2"/>
<line x1="67" y1="240.3" x2="67" y2="248.8" stroke="#000" stroke-width="2"/>
<line x1="121.2" y1="240.3" x2="121.2" y2="248.8" stroke="#000" stroke-width="2"/>
<line x1="175.4" y1="240.3" x2="175.4" y2="248.8" stroke="#000" stroke-width="2"/>
<line x1="229.6" y1="240.3" x2="229.6" y2="248.8" stroke="#000" stroke-width="2"/>
<line x1="283.8" y1="240.3" x2="283.8" y2="248.8" stroke="#000" stroke-width="2"/>
<line x1="338" y1="240.3" x2="338" y2="248.8" stroke="#000" stroke-width="2"/>
<line x1="94.1" y1="240.3" x2="94.1" y2="244.8" stroke="#000" stroke-width="2"/>
<line x1="148.3" y1="240.3" x2="148.3" y2="244.8" stroke="#000" stroke-width="2"/>
<line x1="202.5" y1="240.3" x2="202.5" y2="244.8" stroke="#000" stroke-width="2"/>
<line x1="256.7" y1="240.3" x2="256.7" y2="244.8" stroke="#000" stroke-width="2"/>
<line x1="310.9" y1="240.3" x2="310.9" y2="244.8" stroke="#000" stroke-width="2"/>
<line x1="67" y1="240.3" x2="58.5" y2="240.3" stroke="#000" stroke-width="2"/>
<line x1="67" y1="198.32" x2="58.5" y2="198.32" stroke="#000" stroke-width="2"/>
<line x1="67" y1="156.34" x2="58.5" y2="156.34" stroke="#000" stroke-width="2"/>
<line x1="67" y1="114.36" x2="58.5" y2="114.36" stroke="#000" stroke-width="2"/>
<line x1="67" y1="72.38" x2="58.5" y2="72.38" stroke="#000" stroke-width="2"/>
<line x1="67" y1="30.4" x2="58.5" y2="30.4" stroke="#000" stroke-width="2"/>
<line x1="67" y1="219.31" x2="62.5" y2="219.31" stroke="#000" stroke-width="2"/>
<line x1="67" y1="177.33" x2="62.5" y2="177.33" stroke="#000" stroke-width="2"/>
<line x1="67" y1="135.35" x2="62.5" y2="135.35" stroke="#000" stroke-width="2"/>
<line x1="67" y1="93.37" x2="62.5" y2="93.37" stroke="#000" stroke-width="2"/>
<line x1="67" y1="51.39" x2="62.5" y2="51.39" stroke="#000" stroke-width="2"/>
<text x="67" y="267.3" text-anchor="middle" font-size="17">0.0</text>
<text x="121.2" y="267.3" text-anchor="middle" font-size="17">0.2</text>
<text x="175.4" y="267.3" text-anchor="middle" font-size="17">0.4</text>
<text x="229.6" y="267.3" text-anchor="middle" font-size="17">0.6</text>
<text x="283.8" y="267.3" text-anchor="middle" font-size="17">0.8</text>
<text x="338" y="267.3" text-anchor="middle" font-size="17">1.0</text>
<text x="53.2" y="246.05" text-anchor="end" font-size="17">0</text>
<text x="53.2" y="204.07" text-anchor="end" font-size="17">2</text>
<text x="53.2" y="162.09" text-anchor="end" font-size="17">4</text>
<text x="53.2" y="120.11" text-anchor="end" font-size="17">6</text>
<text x="53.2" y="78.13" text-anchor="end" font-size="17">8</text>
<text x="53.2" y="36.15" text-anchor="end" font-size="17">10</text>
<rect x="399.7" y="30.4" width="271.8" height="209.8" fill="none" stroke="#000" stroke-width="2"/>
<line x1="399.7" y1="240.2" x2="399.7" y2="248.7" stroke="#000" stroke-width="2"/>
<line x1="477.36" y1="240.2" x2="477.36" y2="248.7" stroke="#000" stroke-width="2"/>
<line x1="555.01" y1="240.2" x2="555.01" y2="248.7" stroke="#000" stroke-width="2"/>
<line x1="632.67" y1="240.2" x2="632.67" y2="248.7" stroke="#000" stroke-width="2"/>
<line x1="438.53" y1="240.2" x2="438.53" y2="244.7" stroke="#000" stroke-width="2"/>
<line x1="516.19" y1="240.2" x2="516.19" y2="244.7" stroke="#000" stroke-width="2"/>
<line x1="593.84" y1="240.2" x2="593.84" y2="244.7" stroke="#000" stroke-width="2"/>
<line x1="671.5" y1="240.2" x2="671.5" y2="244.7" stroke="#000" stroke-width="2"/>
<line x1="399.7" y1="240.2" x2="391.2" y2="240.2" stroke="#000" stroke-width="2"/>
<line x1="399.7" y1="216.89" x2="391.2" y2="216.89" stroke="#000" stroke-width="2"/>
<line x1="399.7" y1="193.58" x2="391.2" y2="193.58" stroke="#000" stroke-width="2"/>
<line x1="399.7" y1="170.27" x2="391.2" y2="170.27" stroke="#000" stroke-width="2"/>
<line x1="399.7" y1="146.96" x2="391.2" y2="146.96" stroke="#000" stroke-width="2"/>
<line x1="399.7" y1="123.64" x2="391.2" y2="123.64" stroke="#000" stroke-width="2"/>
<line x1="399.7" y1="100.33" x2="391.2" y2="100.33" stroke="#000" stroke-width="2"/>
<line x1="399.7" y1="77.02" x2="391.2" y2="77.02" stroke="#000" stroke-width="2"/>
<line x1="399.7" y1="53.71" x2="391.2" y2="53.71" stroke="#000" stroke-width="2"/>
<line x1="399.7" y1="30.4" x2="391.2" y2="30.4" stroke="#000" stroke-width="2"/>
<line x1="399.7" y1="228.54" x2="395.2" y2="228.54" stroke="#000" stroke-width="2"/>
<line x1="399.7" y1="205.23" x2="395.2" y2="205.23" stroke="#000" stroke-width="2"/>
<line x1="399.7" y1="181.92" x2="395.2" y2="181.92" stroke="#000" stroke-width="2"/>
<line x1="399.7" y1="158.61" x2="395.2" y2="158.61" stroke="#000" stroke-width="2"/>
<line x1="399.7" y1="135.3" x2="395.2" y2="135.3" stroke="#000" stroke-width="2"/>
<line x1="399.7" y1="111.99" x2="395.2" y2="111.99" stroke="#000" stroke-width="2"/>
<line x1="399.7" y1="88.68" x2="395.2" y2="88.68" stroke="#000" stroke-width="2"/>
<line x1="399.7" y1="65.37" x2="395.2" y2="65.37" stroke="#000" stroke-width="2"/>
<line x1="399.7" y1="42.06" x2="395.2" y2="42.06" stroke="#000" stroke-width="2"/>
<text x="399.7" y="267.2" text-anchor="middle" font-size="17">0.00</text>
<text x="477.36" y="267.2" text-anchor="middle" font-size="17">0.01</text>
<text x="555.01" y="267.2" text-anchor="middle" font-size="17">0.02</text>
<text x="632.67" y="267.2" text-anchor="middle" font-size="17">0.03</text>
<text x="385.9" y="245.95" text-anchor="end" font-size="17">0</text>
<text x="385.9" y="222.64" text-anchor="end" font-size="17">2</text>
<text x="385.9" y="199.33" text-anchor="end" font-size="17">4</text>
<text x="385.9" y="176.02" text-anchor="end" font-size="17">6</text>
<text x="385.9" y="152.71" text-anchor="end" font-size="17">8</text>
<text x="385.9" y="129.39" text-anchor="end" font-size="17">10</text>
<text x="385.9" y="106.08" text-anchor="end" font-size="17">12</text>
<text x="385.9" y="82.77" text-anchor="end" font-size="17">14</text>
<text x="385.9" y="59.46" text-anchor="end" font-size="17">16</text>
<text x="385.9" y="36.15" text-anchor="end" font-size="17">18</text>
<rect x="67" y="305.5" width="271.2" height="210.8" fill="none" stroke="#000" stroke-width="2"/>
<line x1="67" y1="516.3" x2="67" y2="524.8" stroke="#000" stroke-width="2"/>
<line x1="134.8" y1="516.3" x2="134.8" y2="524.8" stroke="#000" stroke-width="2"/>
<line x1="202.6" y1="516.3" x2="202.6" y2="524.8" stroke="#000" stroke-width="2"/>
<line x1="270.4" y1="516.3" x2="270.4" y2="524.8" stroke="#000" stroke-width="2"/>
<line x1="338.2" y1="516.3" x2="338.2" y2="524.8" stroke="#000" stroke-width="2"/>
<line x1="100.9" y1="516.3" x2="100.9" y2="520.8" stroke="#000" stroke-width="2"/>
<line x1="168.7" y1="516.3" x2="168.7" y2="520.8" stroke="#000" stroke-width="2"/>
<line x1="236.5" y1="516.3" x2="236.5" y2="520.8" stroke="#000" stroke-width="2"/>
<line x1="304.3" y1="516.3" x2="304.3" y2="520.8" stroke="#000" stroke-width="2"/>
<line x1="67" y1="516.3" x2="58.5" y2="516.3" stroke="#000" stroke-width="2"/>
<line x1="67" y1="463.6" x2="58.5" y2="463.6" stroke="#000" stroke-width="2"/>
<line x1="67" y1="410.9" x2="58.5" y2="410.9" stroke="#000" stroke-width="2"/>
<line x1="67" y1="358.2" x2="58.5" y2="358.2" stroke="#000" stroke-width="2"/>
<line x1="67" y1="305.5" x2="58.5" y2="305.5" stroke="#000" stroke-width="2"/>
<line x1="67" y1="489.95" x2="62.5" y2="489.95" stroke="#000" stroke-width="2"/>
<line x1="67" y1="437.25" x2="62.5" y2="437.25" stroke="#000" stroke-width="2"/>
<line x1="67" y1="384.55" x2="62.5" y2="384.55" stroke="#000" stroke-width="2"/>
<line x1="67" y1="331.85" x2="62.5" y2="331.85" stroke="#000" stroke-width="2"/>
<text x="67" y="543.3" text-anchor="middle" font-size="17">-6</text>
<text x="134.8" y="543.3" text-anchor="middle" font-size="17">-4</text>
<text x="202.6" y="543.3" text-anchor="middle" font-size="17">-2</text>
<text x="270.4" y="543.3" text-anchor="middle" font-size="17">0</text>
<text x="338.2" y="543.3" text-anchor="middle" font-size="17">2</text>
<text x="53.2" y="522.05" text-anchor="end" font-size="17">-1</text>
<text x="53.2" y="469.35" text-anchor="end" font-size="17">0</text>
<text x="53.2" y="416.65" text-anchor="end" font-size="17">1</text>
<text x="53.2" y="363.95" text-anchor="end" font-size="17">2</text>
<text x="53.2" y="311.25" text-anchor="end" font-size="17">3</text>
<rect x="399.7" y="305.5" width="272" height="210.8" fill="none" stroke="#000" stroke-width="2"/>
<line x1="399.7" y1="516.3" x2="399.7" y2="524.8" stroke="#000" stroke-width="2"/>
<line x1="467.7" y1="516.3" x2="467.7" y2="524.8" stroke="#000" stroke-width="2"/>
<line x1="535.7" y1="516.3" x2="535.7" y2="524.8" stroke="#000" stroke-width="2"/>
<line x1="603.7" y1="516.3" x2="603.7" y2="524.8" stroke="#000" stroke-width="2"/>
<line x1="671.7" y1="516.3" x2="671.7" y2="524.8" stroke="#000" stroke-width="2"/>
<line x1="433.7" y1="516.3" x2="433.7" y2="520.8" stroke="#000" stroke-width="2"/>
<line x1="501.7" y1="516.3" x2="501.7" y2="520.8" stroke="#000" stroke-width="2"/>
<line x1="569.7" y1="516.3" x2="569.7" y2="520.8" stroke="#000" stroke-width="2"/>
<line x1="637.7" y1="516.3" x2="637.7" y2="520.8" stroke="#000" stroke-width="2"/>
<line x1="399.7" y1="516.3" x2="391.2" y2="516.3" stroke="#000" stroke-width="2"/>
<line x1="399.7" y1="463.6" x2="391.2" y2="463.6" stroke="#000" stroke-width="2"/>
<line x1="399.7" y1="410.9" x2="391.2" y2="410.9" stroke="#000" stroke-width="2"/>
<line x1="399.7" y1="358.2" x2="391.2" y2="358.2" stroke="#000" stroke-width="2"/>
<line x1="399.7" y1="305.5" x2="391.2" y2="305.5" stroke="#000" stroke-width="2"/>
<line x1="399.7" y1="489.95" x2="395.2" y2="489.95" stroke="#000" stroke-width="2"/>
<line x1="399.7" y1="437.25" x2="395.2" y2="437.25" stroke="#000" stroke-width="2"/>
<line x1="399.7" y1="384.55" x2="395.2" y2="384.55" stroke="#000" stroke-width="2"/>
<line x1="399.7" y1="331.85" x2="395.2" y2="331.85" stroke="#000" stroke-width="2"/>
<text x="399.7" y="543.3" text-anchor="middle" font-size="17">-6</text>
<text x="467.7" y="543.3" text-anchor="middle" font-size="17">-4</text>
<text x="535.7" y="543.3" text-anchor="middle" font-size="17">-2</text>
<text x="603.7" y="543.3" text-anchor="middle" font-size="17">0</text>
<text x="671.7" y="543.3" text-anchor="middle" font-size="17">2</text>
<text x="385.9" y="522.05" text-anchor="end" font-size="17">-1</text>
<text x="385.9" y="469.35" text-anchor="end" font-size="17">0</text>
<text x="385.9" y="416.65" text-anchor="end" font-size="17">1</text>
<text x="385.9" y="363.95" text-anchor="end" font-size="17">2</text>
<text x="385.9" y="311.25" text-anchor="end" font-size="17">3</text>
<rect x="67" y="575.3" width="271.2" height="210.9" fill="none" stroke="#000" stroke-width="2"/>
<line x1="67" y1="786.2" x2="67" y2="794.7" stroke="#000" stroke-width="2"/>
<line x1="134.8" y1="786.2" x2="134.8" y2="794.7" stroke="#000" stroke-width="2"/>
<line x1="202.6" y1="786.2" x2="202.6" y2="794.7" stroke="#000" stroke-width="2"/>
<line x1="270.4" y1="786.2" x2="270.4" y2="794.7" stroke="#000" stroke-width="2"/>
<line x1="338.2" y1="786.2" x2="338.2" y2="794.7" stroke="#000" stroke-width="2"/>
<line x1="100.9" y1="786.2" x2="100.9" y2="790.7" stroke="#000" stroke-width="2"/>
<line x1="168.7" y1="786.2" x2="168.7" y2="790.7" stroke="#000" stroke-width="2"/>
<line x1="236.5" y1="786.2" x2="236.5" y2="790.7" stroke="#000" stroke-width="2"/>
<line x1="304.3" y1="786.2" x2="304.3" y2="790.7" stroke="#000" stroke-width="2"/>
<line x1="67" y1="786.2" x2="58.5" y2="786.2" stroke="#000" stroke-width="2"/>
<line x1="67" y1="733.48" x2="58.5" y2="733.48" stroke="#000" stroke-width="2"/>
<line x1="67" y1="680.75" x2="58.5" y2="680.75" stroke="#000" stroke-width="2"/>
<line x1="67" y1="628.02" x2="58.5" y2="628.02" stroke="#000" stroke-width="2"/>
<line x1="67" y1="575.3" x2="58.5" y2="575.3" stroke="#000" stroke-width="2"/>
<line x1="67" y1="759.84" x2="62.5" y2="759.84" stroke="#000" stroke-width="2"/>
<line x1="67" y1="707.11" x2="62.5" y2="707.11" stroke="#000" stroke-width="2"/>
<line x1="67" y1="654.39" x2="62.5" y2="654.39" stroke="#000" stroke-width="2"/>
<line x1="67" y1="601.66" x2="62.5" y2="601.66" stroke="#000" stroke-width="2"/>
<text x="67" y="813.2" text-anchor="middle" font-size="17">-6</text>
<text x="134.8" y="813.2" text-anchor="middle" font-size="17">-4</text>
<text x="202.6" y="813.2" text-anchor="middle" font-size="17">-2</text>
<text x="270.4" y="813.2" text-anchor="middle" font-size="17">0</text>
<text x="338.2" y="813.2" text-anchor="middle" font-size="17">2</text>
<text x="53.2" y="791.95" text-anchor="end" font-size="17">-1</text>
<text x="53.2" y="739.23" text-anchor="end" font-size="17">0</text>
<text x="53.2" y="686.5" text-anchor="end" font-size="17">1</text>
<text x="53.2" y="633.77" text-anchor="end" font-size="17">2</text>
<text x="53.2" y="581.05" text-anchor="end" font-size="17">3</text>
<text x="68" y="23" font-size="28.5">A</text>
<text x="401" y="23" font-size="28.5">B</text>
<text x="67" y="298.3" font-size="28.5">C</text>
<text x="400.5" y="298.6" font-size="28.5">D</text>
<text x="68.5" y="568.2" font-size="28.5">E</text>
<text x="98.3" y="288.4" font-size="20.7">Relative pressure (P/P<tspan font-size="14" dy="7.3">0</tspan><tspan dy="-7.3">)</tspan></text>
<text x="431.6" y="288.2" font-size="20.7">Relative pressure (P/P<tspan font-size="14" dy="7.3">0</tspan><tspan dy="-7.3">)</tspan></text>
<text x="486.5" y="576.2" font-size="20.7">ln(ln(P<tspan font-size="14" dy="6">0</tspan><tspan dy="-6">/P))</tspan></text>
<text x="153" y="846" font-size="20.7">ln(ln(P<tspan font-size="14" dy="6">0</tspan><tspan dy="-6">/P))</tspan></text>
<text transform="translate(18.6,271.1) rotate(-90)" text-anchor="start" font-size="20.6">Sorption capacity (cm</text>
<text transform="translate(8.3,77.3) rotate(-90)" text-anchor="start" font-size="13">3</text>
<text transform="translate(18.6,71.2) rotate(-90)" text-anchor="start" font-size="20.6">/g, STP)</text>
<text transform="translate(30.5,410.7) rotate(-90)" text-anchor="middle" font-size="20.7">ln(V)</text>
<text transform="translate(30.5,680.7) rotate(-90)" text-anchor="middle" font-size="20.7">ln(V)</text>
<text x="96" y="492.2" font-size="18.3" word-spacing="0">Untreated</text>
<text x="426" y="489.6" font-size="18.3" word-spacing="1.3">Treated #8</text>
<text x="97" y="759.9" font-size="18.3" word-spacing="1.1">Treated #11</text>
<rect x="81.5" y="40.1" width="153.3" height="79.7" fill="#000"/>
<rect x="75.7" y="34.3" width="153.3" height="79.7" fill="#fff" stroke="#666" stroke-width="1"/>
<text x="88.6" y="51.6" font-size="13">Ad</text>
<text x="127.2" y="51.6" font-size="13">De</text>
<line x1="77.5" y1="65.2" x2="111.8" y2="65.2" stroke="#555" stroke-width="1" stroke-opacity="0.75"/>
<line x1="115.2" y1="65.2" x2="149" y2="65.2" stroke="#555" stroke-width="1" stroke-opacity="0.75"/>
<rect x="90.3" y="60.8" width="8.8" height="8.8" fill="#000"/>
<rect x="128.8" y="61.5" width="7.4" height="7.4" fill="#fff" stroke="#000" stroke-width="1.4"/>
<text x="153.5" y="70.2" font-size="13.3" word-spacing="0">Untreated</text>
<line x1="77.5" y1="84.6" x2="111.8" y2="84.6" stroke="#ff0000" stroke-width="1" stroke-opacity="0.75"/>
<line x1="115.2" y1="84.6" x2="149" y2="84.6" stroke="#ff0000" stroke-width="1" stroke-opacity="0.75"/>
<circle cx="94.7" cy="84.6" r="5" fill="#ff0000"/>
<circle cx="132.5" cy="84.6" r="4.3" fill="#fff" stroke="#ff0000" stroke-width="1.4"/>
<text x="153.5" y="89.6" font-size="13.3" word-spacing="1.1">Treated #8</text>
<line x1="77.5" y1="103.8" x2="111.8" y2="103.8" stroke="#0000ff" stroke-width="1" stroke-opacity="0.75"/>
<line x1="115.2" y1="103.8" x2="149" y2="103.8" stroke="#0000ff" stroke-width="1" stroke-opacity="0.75"/>
<polygon points="94.7,97.58 88.87,107.43 100.53,107.43" fill="#0000ff"/>
<polygon points="132.5,98.53 127.58,106.85 137.42,106.85" fill="#fff" stroke="#0000ff" stroke-width="1.4" stroke-linejoin="miter"/>
<text x="153.5" y="108.8" font-size="13.3" word-spacing="1.1">Treated #11</text>
<rect x="415.1" y="42" width="109.3" height="53.4" fill="#000"/>
<rect x="409.3" y="36.2" width="109.3" height="53.4" fill="#fff" stroke="#666" stroke-width="1"/>
<line x1="411.4" y1="46.2" x2="441.5" y2="46.2" stroke="#555" stroke-width="1" stroke-opacity="0.75"/>
<rect x="422.2" y="41.8" width="8.8" height="8.8" fill="#000"/>
<text x="445.4" y="51.2" font-size="13.3" word-spacing="0">Untreated</text>
<line x1="411.4" y1="63.2" x2="441.5" y2="63.2" stroke="#ff0000" stroke-width="1" stroke-opacity="0.75"/>
<circle cx="426.6" cy="63.2" r="5" fill="#ff0000"/>
<text x="445.4" y="68.2" font-size="13.3" word-spacing="-0.6">Treated #8</text>
<line x1="411.4" y1="80.2" x2="441.5" y2="80.2" stroke="#0000ff" stroke-width="1" stroke-opacity="0.75"/>
<polygon points="426.6,74.27 421.1,83.57 432.1,83.57" fill="#0000ff"/>
<text x="445.4" y="85.2" font-size="13.3" word-spacing="-0.6">Treated #11</text>
<rect x="231" y="319.1" width="101.5" height="36" fill="#000"/>
<rect x="225.2" y="313.3" width="101.5" height="36" fill="#fff" stroke="#666" stroke-width="1"/>
<rect x="238.7" y="319.6" width="7.4" height="7.4" fill="none" stroke="#000" stroke-width="1.3"/>
<circle cx="242.4" cy="340.6" r="4.25" fill="none" stroke="#0000ff" stroke-width="1.5"/>
<text x="258.3" y="327.8" font-size="13">Adsorption</text>
<text x="258.3" y="345.1" font-size="13">Desorption</text>
<rect x="565.3" y="318.1" width="101.5" height="35.9" fill="#000"/>
<rect x="559.5" y="312.3" width="101.5" height="35.9" fill="#fff" stroke="#666" stroke-width="1"/>
<rect x="572.7" y="318.4" width="7.4" height="7.4" fill="none" stroke="#000" stroke-width="1.3"/>
<circle cx="576.4" cy="339.9" r="4.25" fill="none" stroke="#0000ff" stroke-width="1.5"/>
<text x="592.4" y="326.6" font-size="13">Adsorption</text>
<text x="592.4" y="344.4" font-size="13">Desorption</text>
<rect x="233.4" y="588.6" width="101.3" height="36.1" fill="#000"/>
<rect x="227.6" y="582.8" width="101.3" height="36.1" fill="#fff" stroke="#666" stroke-width="1"/>
<rect x="240.9" y="589.3" width="7.4" height="7.4" fill="none" stroke="#000" stroke-width="1.3"/>
<circle cx="244.6" cy="610.2" r="4.25" fill="none" stroke="#0000ff" stroke-width="1.5"/>
<text x="260.7" y="597.5" font-size="13">Adsorption</text>
<text x="260.7" y="614.7" font-size="13">Desorption</text>
</svg>
</body></html>
